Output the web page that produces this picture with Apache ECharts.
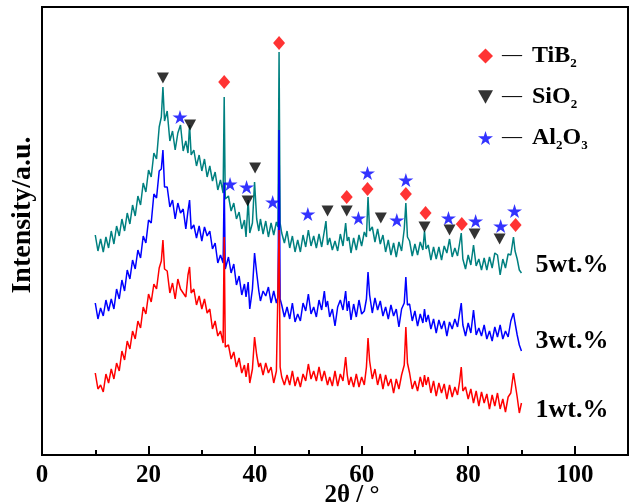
<!DOCTYPE html>
<html>
<head>
<meta charset="utf-8">
<script src="https://cdn.jsdelivr.net/npm/echarts@6/dist/echarts.min.js"></script>
<style>html,body{margin:0;padding:0;background:#fff}#c{width:630px;height:504px}</style>
</head>
<body>
<div id="c"></div>
<script>
// 2θ sample positions (degrees)
const twoTheta = [
  10, 10.5, 11, 11.5, 12, 12.5, 13, 13.5, 14, 14.5,
  15, 15.5, 16, 16.5, 17, 17.5, 18, 18.5, 19, 19.5,
  20, 20.5, 21, 21.5, 22, 22.4, 22.7, 23, 23.5, 24,
  24.5, 25, 25.5, 26, 26.5, 27, 27.4, 27.7, 28, 28.5,
  29, 29.5, 30, 30.5, 31, 31.5, 32, 32.5, 33, 33.5,
  34, 34.2, 34.4, 35, 35.5, 36, 36.5, 37, 37.5, 38,
  38.3, 38.7, 39, 39.5, 39.9, 40.3, 40.7, 41, 41.5, 42,
  42.5, 43, 43.5, 44, 44.3, 44.5, 44.7, 45, 45.5, 46,
  46.5, 47, 47.5, 48, 48.5, 49, 49.5, 50, 50.5, 51,
  51.5, 52, 52.5, 53, 53.3, 53.6, 54, 54.5, 55, 55.5,
  56, 56.5, 57, 57.3, 57.6, 58, 58.5, 59, 59.5, 60,
  60.5, 60.9, 61.2, 61.5, 62, 62.5, 63, 63.5, 64, 64.5,
  65, 65.5, 66, 66.5, 67, 67.5, 68, 68.3, 68.6, 69,
  69.5, 70, 70.5, 71, 71.5, 71.8, 72.1, 72.5, 73, 73.5,
  74, 74.5, 75, 75.5, 76, 76.5, 77, 77.5, 78, 78.4,
  78.7, 79, 79.5, 80, 80.5, 81, 81.5, 82, 82.5, 83,
  83.5, 84, 84.5, 85, 85.5, 86, 86.5, 87, 87.5, 88,
  88.5, 88.8, 89.2, 89.6, 90
];
// intensity (a.u., offset as drawn)
const int5wt = [
  220, 204, 216, 203, 218, 207, 224, 211, 229, 219,
  236, 224, 242, 231, 250, 239, 259, 250, 272, 263,
  285, 278, 302, 296, 328, 338, 368, 334, 344, 314,
  324, 305, 322, 330, 304, 314, 302, 330, 300, 305,
  289, 300, 284, 296, 278, 289, 274, 283, 265, 275,
  262, 358, 256, 259, 244, 252, 236, 243, 226, 235,
  218, 255, 222, 232, 273, 236, 224, 236, 221, 234,
  218, 232, 220, 233, 228, 403, 232, 222, 212, 224,
  207, 219, 203, 215, 203, 220, 208, 225, 209, 219,
  207, 221, 208, 224, 234, 210, 217, 205, 214, 204,
  221, 209, 232, 214, 218, 202, 217, 205, 220, 209,
  223, 218, 258, 224, 228, 213, 226, 211, 220, 203,
  215, 200, 212, 198, 213, 204, 226, 252, 218, 214,
  199, 211, 200, 213, 205, 224, 206, 210, 195, 208,
  196, 208, 195, 209, 202, 216, 198, 207, 199, 212,
  222, 196, 186, 200, 190, 210, 189, 196, 185, 197,
  185, 198, 187, 202, 200, 180, 196, 187, 201, 200,
  218, 204, 196, 185, 182
];
const int3wt = [
  152, 136, 147, 139, 155, 144, 156, 146, 166, 156,
  175, 164, 185, 176, 195, 186, 205, 197, 219, 212,
  235, 232, 261, 257, 284, 286, 305, 268, 268, 248,
  255, 236, 252, 242, 246, 226, 244, 255, 226, 230,
  217, 229, 214, 228, 219, 224, 206, 212, 192, 200,
  192, 272, 186, 198, 182, 191, 170, 179, 160, 171,
  158, 173, 146, 166, 202, 182, 164, 154, 164, 159,
  168, 152, 164, 152, 158, 325, 156, 150, 138, 148,
  136, 152, 133, 141, 134, 152, 144, 161, 141, 148,
  138, 155, 145, 164, 148, 154, 138, 146, 129, 148,
  155, 145, 164, 144, 154, 135, 151, 138, 155, 141,
  144, 156, 183, 160, 142, 157, 145, 154, 139, 148,
  136, 150, 139, 146, 128, 146, 152, 178, 150, 151,
  134, 144, 129, 141, 132, 146, 133, 140, 126, 136,
  122, 135, 126, 134, 119, 133, 126, 136, 128, 142,
  152, 130, 119, 132, 122, 145, 120, 127, 119, 130,
  116, 124, 114, 128, 118, 130, 116, 124, 118, 134,
  142, 132, 120, 110, 104
];
const int1wt = [
  82, 66, 70, 63, 81, 72, 86, 76, 92, 84,
  104, 95, 114, 106, 124, 116, 134, 127, 148, 141,
  161, 153, 171, 166, 187, 194, 215, 186, 184, 162,
  172, 156, 176, 166, 162, 158, 180, 188, 162, 166,
  150, 159, 146, 156, 142, 146, 126, 134, 119, 124,
  112, 218, 108, 110, 96, 103, 88, 97, 82, 90,
  78, 92, 72, 86, 118, 100, 88, 92, 80, 92,
  82, 88, 72, 84, 82, 225, 88, 78, 70, 80,
  70, 84, 69, 78, 68, 81, 74, 91, 76, 84,
  74, 88, 74, 84, 82, 70, 78, 69, 84, 69,
  81, 74, 98, 80, 70, 78, 68, 81, 68, 78,
  70, 88, 117, 94, 76, 86, 70, 81, 66, 80,
  69, 76, 62, 76, 66, 80, 90, 128, 92, 82,
  66, 74, 64, 78, 68, 80, 70, 78, 62, 74,
  59, 72, 62, 71, 56, 70, 58, 68, 60, 74,
  88, 64, 68, 56, 66, 52, 64, 49, 63, 52,
  61, 46, 60, 49, 62, 46, 56, 43, 58, 62,
  82, 72, 58, 42, 52
];
// phase markers: [2θ, height]
const tib2Marks = [[34.2, 373], [44.5, 412], [57.2, 258], [61.1, 266], [68.3, 261], [72.0, 242], [78.8, 231], [88.9, 230]];
const sio2Marks = [[22.7, 377], [27.8, 330], [38.6, 254], [40.0, 287], [53.6, 244], [57.2, 244], [63.6, 237], [71.8, 228], [76.5, 225], [81.2, 221], [85.9, 216]];
const al2o3Marks = [[25.9, 338], [35.3, 271], [38.4, 268], [43.3, 253], [49.9, 241], [59.4, 237], [61.1, 282], [66.6, 235], [68.3, 275], [76.3, 237], [81.4, 234], [86.1, 229], [88.7, 244]];
const sampleNames = ['5wt.%', '3wt.%', '1wt.%'];
const phaseNames = ['TiB2', 'SiO2', 'Al2O3'];
const xTicks = [0, 20, 40, 60, 80, 100];

const pair = (ys) => twoTheta.map((x, i) => [x, ys[i]]);
const FONT = 'Liberation Serif';
const STAR = 'path://M50,0 L61,35 L98,35 L68,57 L79,91 L50,70 L21,91 L32,57 L2,35 L39,35 Z';
const TRI_DOWN = 'path://M0,0 L100,0 L50,90 Z';

const chart = echarts.init(document.getElementById('c'), null, {renderer: 'canvas'});
const lineSeries = (name, ys, color, dy) => ({
  name, type: 'line', data: pair(ys), showSymbol: false, symbol: 'none',
  lineStyle: {color, width: 1.5}, itemStyle: {color}, z: 2,
  endLabel: {show: true, formatter: name, distance: 14, offset: [0, dy],
    fontFamily: FONT, fontWeight: 'bold', fontSize: 26, color: '#000'},
  silent: true
});
const legendRich = {
  d: {fontFamily: FONT, fontSize: 20, fontWeight: 'normal', color: '#000', padding: [0, 10, 0, 4]},
  m: {fontFamily: FONT, fontSize: 24, fontWeight: 'bold', color: '#000'},
  s: {fontFamily: FONT, fontSize: 13, fontWeight: 'bold', color: '#000', verticalAlign: 'bottom', padding: [10, 0, 0, 0]}
};
chart.setOption({
  animation: false,
  grid: {left: 42, right: 2, top: 7, bottom: 49, show: true, borderColor: '#000', borderWidth: 2,
    containLabel: false, outerBoundsMode: 'none'},
  legend: {
    orient: 'vertical', left: 473, top: 37, itemWidth: 15, itemHeight: 15, itemGap: 13,
    data: phaseNames,
    formatter: (n) => {
      if (n === 'TiB2') return '{d|—}{m|TiB}{s|2}';
      if (n === 'SiO2') return '{d|—}{m|SiO}{s|2}';
      return '{d|—}{m|Al}{s|2}{m|O}{s|3}';
    },
    textStyle: {rich: legendRich, fontSize: 24, lineHeight: 28}
  },
  xAxis: {
    type: 'value', min: 0, max: 110, interval: 20,
    name: '2θ / °', nameLocation: 'middle', nameGap: 28, nameMoveOverlap: false,
    nameTextStyle: {fontFamily: FONT, fontWeight: 'bold', fontSize: 25, color: '#000', padding: [0, 0, 0, 34]},
    axisLine: {lineStyle: {color: '#000', width: 2}},
    axisTick: {inside: true, length: 9, lineStyle: {color: '#000', width: 2}},
    minorTick: {show: true, splitNumber: 2, length: 5, lineStyle: {color: '#000', width: 2}},
    axisLabel: {fontFamily: FONT, fontWeight: 'bold', fontSize: 25, color: '#000', margin: 8,
      formatter: (v) => xTicks.indexOf(v) >= 0 ? String(v) : ''},
    splitLine: {show: false}
  },
  yAxis: {
    type: 'value', min: 0, max: 448,
    name: 'Intensity/a.u.', nameLocation: 'middle', nameGap: 5, nameMoveOverlap: false,
    nameTextStyle: {fontFamily: FONT, fontWeight: 'bold', fontSize: 28, color: '#000', padding: [0, 0, 0, 32]},
    axisLine: {show: true, lineStyle: {color: '#000', width: 2}},
    axisTick: {show: false}, axisLabel: {show: false}, splitLine: {show: false}
  },
  series: [
    lineSeries(sampleNames[0], int5wt, '#008080', -8),
    lineSeries(sampleNames[1], int3wt, '#0000ff', -10),
    lineSeries(sampleNames[2], int1wt, '#ff0000', 7),
    {name: 'TiB2', type: 'scatter', data: tib2Marks, symbol: 'diamond', symbolSize: [12, 14],
      itemStyle: {color: '#ff0000'}, z: 5, silent: true},
    {name: 'SiO2', type: 'scatter', data: sio2Marks, symbol: TRI_DOWN, symbolSize: [12, 11],
      itemStyle: {color: '#000000'}, z: 5, silent: true},
    {name: 'Al2O3', type: 'scatter', data: al2o3Marks, symbol: STAR, symbolSize: [15, 14],
      itemStyle: {color: '#0000ff'}, z: 5, silent: true}
  ]
});
</script>
</body>
</html>
